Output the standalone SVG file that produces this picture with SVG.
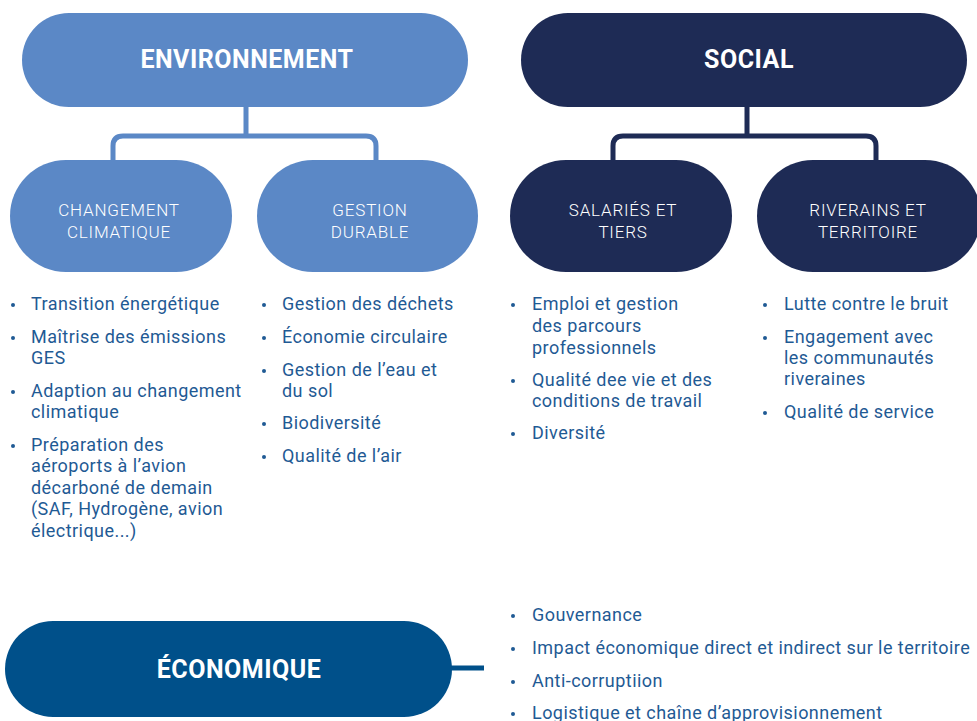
<svg xmlns="http://www.w3.org/2000/svg" width="977" height="721" viewBox="0 0 977 721">
  <style>
    .env { fill: #5b88c6; }
    .soc { fill: #1e2b55; }
    .eco { fill: #00508a; }
    .head { font-family: Roboto, "Liberation Sans", sans-serif; font-weight: 700; font-size: 25px; letter-spacing: 0.5px; fill: #ffffff; text-anchor: middle; }
    .sub { font-family: Roboto, "Liberation Sans", sans-serif; font-weight: 300; font-size: 17px; letter-spacing: 0.8px; fill: #ffffff; text-anchor: middle; }
    .item { font-family: Roboto, "Liberation Sans", sans-serif; font-size: 18px; fill: #1f5a94; letter-spacing: 0.45px; }
    .dot { fill: #1f5a94; }
    .link { fill: none; stroke-width: 5; }
  </style>

  <!-- connectors -->
  <g id="connectors">
    <path class="link" stroke="#5b88c6" d="M246,107 V136 M113,160 V146 Q113,136 123,136 H366 Q376,136 376,146 V160"/>
    <path class="link" stroke="#1e2b55" d="M747,107 V136 M613,160 V146 Q613,136 623,136 H866 Q876,136 876,146 V160"/>
    <path class="link" stroke="#00508a" d="M450,668 H484"/>
  </g>

  <!-- top level -->
  <g id="environnement">
    <rect class="env" x="22" y="13" width="446" height="94" rx="47"/>
    <text class="head" x="247" y="68">ENVIRONNEMENT</text>
  </g>
  <g id="social">
    <rect class="soc" x="521" y="13" width="446" height="94" rx="47"/>
    <text class="head" x="749" y="68">SOCIAL</text>
  </g>

  <!-- second level -->
  <g id="changement-climatique">
    <rect class="env" x="10" y="160" width="222" height="112" rx="56"/>
    <text class="sub" x="119" y="216">CHANGEMENT</text>
    <text class="sub" x="119" y="238">CLIMATIQUE</text>
  </g>
  <g id="gestion-durable">
    <rect class="env" x="257" y="160" width="221" height="112" rx="56"/>
    <text class="sub" x="370" y="216">GESTION</text>
    <text class="sub" x="370" y="238">DURABLE</text>
  </g>
  <g id="salaries-tiers">
    <rect class="soc" x="510" y="160" width="222" height="112" rx="56"/>
    <text class="sub" x="623" y="216">SALARIÉS ET</text>
    <text class="sub" x="623" y="238">TIERS</text>
  </g>
  <g id="riverains-territoire">
    <rect class="soc" x="757" y="160" width="224" height="112" rx="56"/>
    <text class="sub" x="868" y="216">RIVERAINS ET</text>
    <text class="sub" x="868" y="238">TERRITOIRE</text>
  </g>

  <!-- item lists -->
  <g id="list-changement">
    <circle class="dot" cx="13" cy="305" r="2"/>
    <text class="item" x="31" y="310">Transition énergétique</text>
    <circle class="dot" cx="13" cy="338" r="2"/>
    <text class="item" x="31" y="343">Maîtrise des émissions</text>
    <text class="item" x="31" y="364">GES</text>
    <circle class="dot" cx="13" cy="392" r="2"/>
    <text class="item" x="31" y="397">Adaption au changement</text>
    <text class="item" x="31" y="418">climatique</text>
    <circle class="dot" cx="13" cy="446" r="2"/>
    <text class="item" x="31" y="451">Préparation des</text>
    <text class="item" x="31" y="472">aéroports à l’avion</text>
    <text class="item" x="31" y="494">décarboné de demain</text>
    <text class="item" x="31" y="515">(SAF, Hydrogène, avion</text>
    <text class="item" x="31" y="537">électrique...)</text>
  </g>
  <g id="list-gestion">
    <circle class="dot" cx="264" cy="305" r="2"/>
    <text class="item" x="282" y="310">Gestion des déchets</text>
    <circle class="dot" cx="264" cy="338" r="2"/>
    <text class="item" x="282" y="343">Économie circulaire</text>
    <circle class="dot" cx="264" cy="371" r="2"/>
    <text class="item" x="282" y="376">Gestion de l’eau et</text>
    <text class="item" x="282" y="397">du sol</text>
    <circle class="dot" cx="264" cy="424" r="2"/>
    <text class="item" x="282" y="429">Biodiversité</text>
    <circle class="dot" cx="264" cy="457" r="2"/>
    <text class="item" x="282" y="462">Qualité de l’air</text>
  </g>
  <g id="list-salaries">
    <circle class="dot" cx="513" cy="305" r="2"/>
    <text class="item" x="532" y="310">Emploi et gestion</text>
    <text class="item" x="532" y="332">des parcours</text>
    <text class="item" x="532" y="354">professionnels</text>
    <circle class="dot" cx="513" cy="381" r="2"/>
    <text class="item" x="532" y="386">Qualité dee vie et des</text>
    <text class="item" x="532" y="407">conditions de travail</text>
    <circle class="dot" cx="513" cy="434" r="2"/>
    <text class="item" x="532" y="439">Diversité</text>
  </g>
  <g id="list-riverains">
    <circle class="dot" cx="765" cy="305" r="2"/>
    <text class="item" x="784" y="310">Lutte contre le bruit</text>
    <circle class="dot" cx="765" cy="338" r="2"/>
    <text class="item" x="784" y="343">Engagement avec</text>
    <text class="item" x="784" y="364">les communautés</text>
    <text class="item" x="784" y="385">riveraines</text>
    <circle class="dot" cx="765" cy="413" r="2"/>
    <text class="item" x="784" y="418">Qualité de service</text>
  </g>

  <!-- economic pillar -->
  <g id="economique">
    <rect class="eco" x="5" y="621" width="447" height="96" rx="48"/>
    <text class="head" x="239" y="678">ÉCONOMIQUE</text>
  </g>
  <g id="list-economique">
    <circle class="dot" cx="513" cy="616" r="2"/>
    <text class="item" x="532" y="621">Gouvernance</text>
    <circle class="dot" cx="513" cy="649" r="2"/>
    <text class="item" x="532" y="654">Impact économique direct et indirect sur le territoire</text>
    <circle class="dot" cx="513" cy="682" r="2"/>
    <text class="item" x="532" y="687">Anti-corruptiion</text>
    <circle class="dot" cx="513" cy="714" r="2"/>
    <text class="item" x="532" y="719">Logistique et chaîne d’approvisionnement</text>
  </g>
</svg>
